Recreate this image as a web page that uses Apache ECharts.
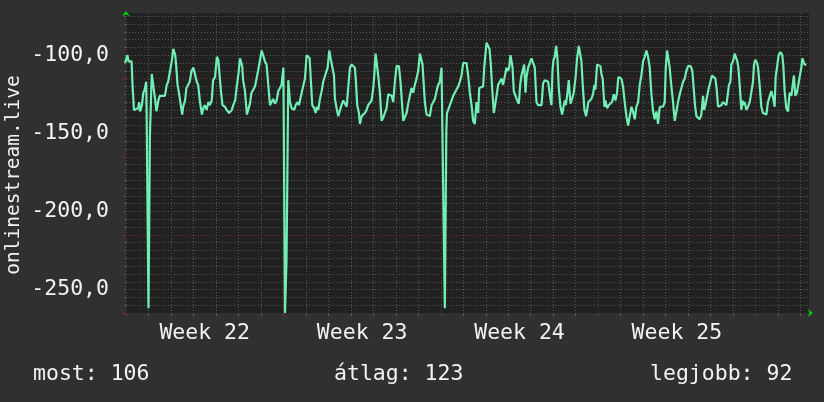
<!DOCTYPE html>
<html><head><meta charset="utf-8">
<script src="https://cdn.jsdelivr.net/npm/echarts@6/dist/echarts.min.js"></script>
<style>html,body{margin:0;padding:0;background:#303030}#c{width:824px;height:402px}</style>
</head><body><div id="c"></div>
<script>
// hours since the start of Week 22
const hours = [
-1,1.5,2.7,6,7,8.5,10.5,13,14,15,17,18.5,20,21.5,22,24,25.5,27.5,29,31,32.5,34.5,36,41.5,43.5,45,47,49,50.5,52.5,53.5,55,56.5,58.5,60,61,63,64.5,66.5,68,70,72,73.5,75.5,77,79,81,82.5,84,86,88,89.5,91.5,93,95,97,98.5,99.5,101.5,103,105.5,107.5,110,113,114.5,116.5,118,120,
121.7,123.5,124,125,127,129,130.5,132.3,134,136,137.7,139.5,141,143,144.8,146.5,148.3,150,152,153.7,155.5,157,159,160.8,162.5,164.3,166,168,169,169.7,171.3,173.2,174.3,175,176.8,179.6,181,183.2,184.6,185.7,187.5,189.2,191,192.8,194.5,196,197.4,198.8,201,202.4,203.8,205.2,207,208.8,210.5,212.3,215.2,217,218.7,220.2,222,223,224.8,226.5,228.3,230,231.9,233.7,235.5,237.2,239,240.8,
242.5,244.3,245.4,246.8,248.6,249.7,251.5,253.2,255,256.8,258.5,260.3,262.1,263.9,265,266.4,268.1,269.2,271,272.8,274.5,276.3,278.1,279.9,281.7,283.5,285.2,287,288.8,291.3,293,294.5,295.9,297.7,299.5,301.2,303,304.8,306.5,308.3,310.1,311.9,313.7,315.5,316.5,317.9,319,320.8,322.5,324.3,326.1,327.9,329.7,331.5,333.2,335,336.8,337.9,340.3,341.9,342.6,344.6,345.7,347.5,349.2,351,352.8,354.6,356.3,358.1,359.9,361.7,363.4,
365.2,367,368.8,370.5,372.3,374.1,375.9,377,378.7,381.2,382.3,383.7,384.8,386.6,388,389.4,390.8,392.6,394.4,395.5,397.2,399,400.8,402.5,404.3,406.1,407.9,409,410.4,411.5,412.6,413.9,415.7,417.5,419.3,420.7,422.1,423.9,425,426.4,427.5,429.2,431,432.8,434.6,436.3,438.1,439.9,441.7,443.5,445.2,447,448.8,450.6,452.3,454.1,455.2,456.3,457.7,459.1,460.5,461.9,463.7,465.5,467.3,468.3,469.4,470.8,472.6,474.4,476.1,477.9,479.7,481.5,483.3,
485.1,486.1,487.5,489.3,491.1,492.1,493.5,494.9,496.7,498.5,499.9,501,502.8,504.6,506.4,507.4,508.8,510.6,511.7,513.5,515.2,517,518.8,520.6,522.4,524.1,525.5,527,528.8,530.5,532.3,534.1,535.9,537.7,539.5,541.2,543,544.8,546.6,548.3,550.1,551.9,553.7,555.5,557.2,559,560.8,562.6,564.3,566.1,567.9,569.7,571.5,573.2,575,576.1,577.5,579,580.3,582.1,583.9,585.7,587.5,589.2,591,592.8,594.6,596.4,598.1,599.9,602.7,604.5,605.9,607.3,608.8,610.5,
612.3,614.1,615.9,617,618.4,620.2,622,623.7,625.5,627.3,629.1,630.5,631.9,633.7,635.5,637.2,639,640.8,642.6,643.6,645.1,646.1,647.9,649.7,651.5,652.5,653.6,655,656.8,657.9,659.3,660.3,662.1,663.9,665.7,667.4,669.2,670.3,671.7,673.5,674.6,676.3,678.1,679.9,681.7,683.5,685.2,687,688.8,690.6,692.3,693.4,694.8,696.6,698.7,700.5,701.6,703,704.8,706.6,708.3,710.1,711.2,712.9,714.4,716.1,717.9,719.3,720.8,721.9,723.3,724.3,726.1
];
const values = [
-105,-100,-104,-104,-120,-135,-136,-134,-130,-136,-132,-124,-122,-117,-136,-262,-152,-112,-111,-128,-136,-129,-126,-126,-119,-117,-110,-103,-96,-100,-106,-119,-124,-132,-138,-133,-129,-121,-120,-117,-110,-108,-109,-117,-119,-130,-138,-134,-132,-135,-130,-132,-129,-116,-114,-101,-103,-110,-124,-132,-133,-135,-137,-135,-132,-129,-121,-112,
-102,-103,-107,-116,-123,-138,-139,-131,-124,-123,-120,-121,-110,-110,-97,-98,-104,-106,-120,-132,-131,-128,-131,-129,-123,-121,-119,-108,-108,-265,-232,-116,-117,-130,-134,-135,-132,-130,-132,-129,-124,-124,-115,-100,-99,-102,-117,-132,-134,-137,-133,-135,-128,-123,-117,-116,-108,-97,-103,-104,-113,-128,-134,-139,-140,-132,-129,-130,-133,-121,-108,-106,
-106,-108,-117,-132,-137,-144,-139,-138,-137,-135,-132,-131,-129,-121,-113,-99,-99,-113,-124,-142,-140,-137,-134,-125,-126,-126,-130,-117,-107,-107,-117,-130,-142,-141,-137,-131,-130,-121,-124,-119,-115,-110,-99,-100,-106,-120,-130,-138,-139,-139,-132,-132,-128,-123,-119,-117,-108,-108,-262,-148,-137,-138,-132,-132,-126,-124,-122,-120,-117,-113,-105,-104,-105,
-113,-124,-132,-142,-144,-130,-137,-121,-120,-120,-108,-107,-92,-93,-96,-106,-121,-137,-136,-126,-119,-118,-115,-119,-119,-108,-110,-108,-100,-101,-108,-123,-126,-129,-131,-119,-113,-112,-106,-124,-114,-108,-107,-102,-105,-108,-130,-132,-131,-132,-118,-116,-115,-117,-125,-132,-110,-103,-101,-94,-102,-121,-133,-138,-138,-129,-132,-126,-116,-131,-128,-124,-115,-102,-94,
-94,-104,-119,-135,-139,-140,-130,-129,-128,-125,-119,-122,-106,-106,-107,-112,-115,-133,-129,-134,-132,-131,-130,-125,-129,-124,-114,-113,-115,-120,-130,-139,-145,-144,-133,-136,-141,-133,-130,-119,-113,-104,-101,-97,-101,-108,-125,-136,-141,-136,-144,-133,-132,-133,-130,-108,-97,-98,-108,-120,-130,-142,-136,-130,-125,-121,-117,-115,-110,-107,-107,-110,-121,-132,-139,-139,
-141,-138,-126,-135,-132,-133,-121,-120,-113,-113,-115,-122,-133,-134,-132,-130,-130,-132,-131,-119,-117,-106,-104,-99,-99,-104,-108,-119,-135,-129,-132,-130,-135,-133,-130,-124,-117,-106,-103,-105,-108,-119,-133,-137,-138,-138,-130,-131,-123,-127,-133,-114,-108,-100,-98,-100,-107,-123,-134,-136,-124,-126,-121,-113,-126,-124,-124,-113,-108,-102,-103,-106,-106
];
const weekLabels = ['Week 22', 'Week 23', 'Week 24', 'Week 25'];
const yTicks = [-250, -200, -150, -100];
const yAxisName = 'onlinestream.live';
const statLabels = ['most', 'átlag', 'legjobb'];
const statValues = [106, 123, 92];

const FONT = "'DejaVu Sans Mono', monospace";
const TXT = '#f2f2f2';
const GRAY = '#585858';
const RED = '#7e2f2f';
const X_MIN = 0, X_MAX = 729, Y_MIN = -265, Y_MAX = -73;
const HOURS_PER_WEEK = 168;

const chart = echarts.init(document.getElementById('c'), null, {renderer: 'canvas'});
const option = {
  backgroundColor: '#303030',
  animation: false,
  grid: {left: 126, top: 13, width: 683, height: 300, show: true, backgroundColor: '#212121', borderWidth: 0},
  xAxis: [
    {type: 'value', min: X_MIN, max: X_MAX, interval: 24, position: 'bottom',
     axisLine: {show: true, onZero: false, symbol: ['none', 'arrow'], symbolSize: [6, 5], symbolOffset: [0, 4],
                lineStyle: {color: '#00cc00', width: 0}},
     axisTick: {show: true, length: 3, lineStyle: {color: GRAY}},
     axisLabel: {show: false},
     splitLine: {show: true, showMinLine: false, showMaxLine: false, lineStyle: {color: GRAY, width: 1, type: [1, 2]}}},
    {type: 'value', min: X_MIN, max: X_MAX, interval: HOURS_PER_WEEK, position: 'bottom',
     axisLine: {show: false},
     axisTick: {show: true, length: 3, lineStyle: {color: RED}},
     axisLabel: {show: false},
     splitLine: {show: true, showMinLine: true, showMaxLine: false, lineStyle: {color: RED, width: 1, type: [1, 2]}}},
    {type: 'value', min: X_MIN, max: X_MAX, interval: 12, position: 'bottom',
     axisLine: {show: false}, axisTick: {show: false}, splitLine: {show: false},
     axisLabel: {show: true, margin: 9, color: TXT, fontFamily: FONT, fontSize: 21.5,
       formatter: function (v) {
         const k = (v - HOURS_PER_WEEK / 2) / HOURS_PER_WEEK;
         if (Math.abs(k - Math.round(k)) < 1e-6 && weekLabels[Math.round(k)]) return weekLabels[Math.round(k)];
         return '';
       }}}
  ],
  yAxis: [
    {type: 'value', min: Y_MIN, max: Y_MAX, interval: 5, position: 'left',
     axisLine: {show: true, onZero: false, symbol: ['none', 'arrow'], symbolSize: [6, 5], symbolOffset: [0, 2],
                lineStyle: {color: '#00cc00', width: 0}},
     axisTick: {show: true, length: 2, lineStyle: {color: GRAY}},
     axisLabel: {show: true, margin: 17, color: TXT, fontFamily: FONT, fontSize: 21.5,
       formatter: function (v) {
         const t = yTicks.find(function (y) { return Math.abs(y - v) < 1e-6; });
         return t === undefined ? '' : t.toFixed(1).replace('.', ',');
       }},
     splitLine: {show: true, showMinLine: false, showMaxLine: false, lineStyle: {color: GRAY, width: 1, type: [1, 2]}}},
    {type: 'value', min: Y_MIN, max: Y_MAX, interval: 50, position: 'left',
     axisLine: {show: false},
     axisTick: {show: true, length: 3, lineStyle: {color: RED}},
     axisLabel: {show: false},
     splitLine: {show: true, showMinLine: false, showMaxLine: false, lineStyle: {color: RED, width: 1, type: [1, 2]}}}
  ],
  series: [{
    type: 'line', xAxisIndex: 0, yAxisIndex: 0,
    data: hours.map(function (h, i) { return [h, values[i]]; }),
    showSymbol: false, symbol: 'none', smooth: false, clip: true,
    lineStyle: {color: '#70eeb4', width: 2.2}
  }],
  graphic: [
    {type: 'text', x: 14, y: 175, rotation: Math.PI / 2,
     style: {text: yAxisName, fill: TXT, font: '19.5px ' + FONT, align: 'center', verticalAlign: 'middle', textAlign: 'center', textVerticalAlign: 'middle'}},
    {type: 'text', x: 33, y: 374,
     style: {text: statLabels[0] + ': ' + statValues[0], fill: TXT, font: '21.5px ' + FONT, align: 'left', verticalAlign: 'middle', textAlign: 'left', textVerticalAlign: 'middle'}},
    {type: 'text', x: 334, y: 374,
     style: {text: statLabels[1] + ': ' + statValues[1], fill: TXT, font: '21.5px ' + FONT, align: 'left', verticalAlign: 'middle', textAlign: 'left', textVerticalAlign: 'middle'}},
    {type: 'text', x: 650, y: 374,
     style: {text: statLabels[2] + ': ' + statValues[2], fill: TXT, font: '21.5px ' + FONT, align: 'left', verticalAlign: 'middle', textAlign: 'left', textVerticalAlign: 'middle'}}
  ]
};
chart.setOption(option);
</script>
</body></html>
